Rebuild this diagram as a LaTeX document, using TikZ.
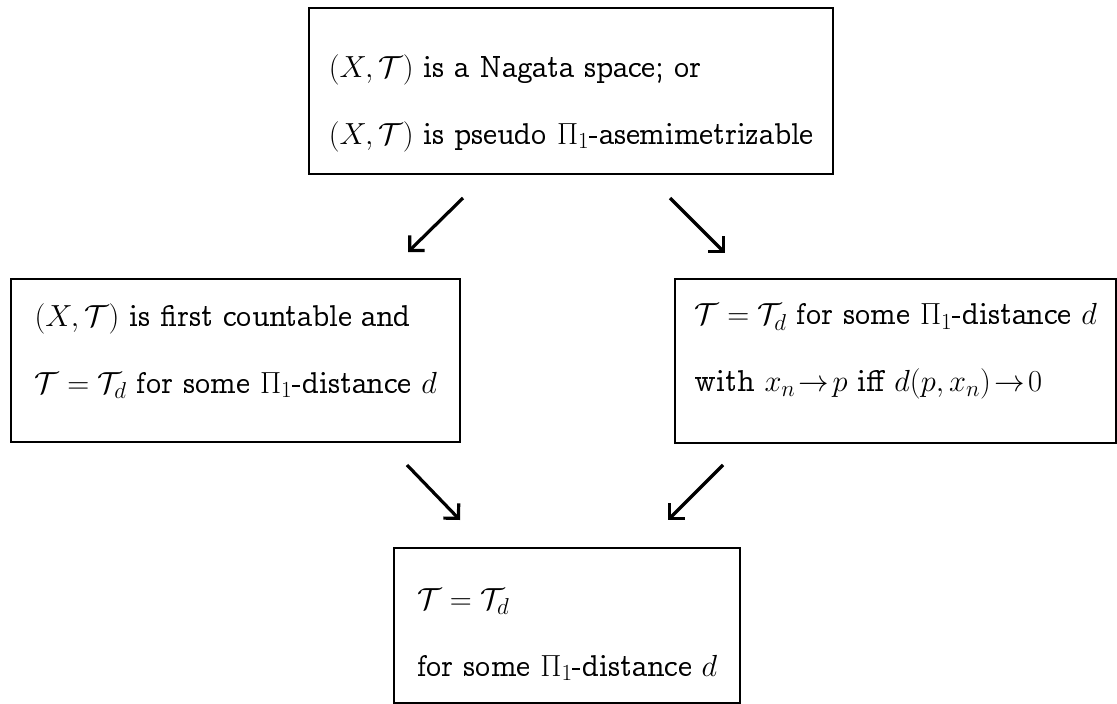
\RequirePackage{fix-cm}
\documentclass[tikz,border=0pt]{standalone}
\usepackage{amsmath,amssymb}
\usepackage[OT1]{fontenc}
\DeclareFontFamily{OT1}{ccr}{\hyphenchar\font45 }
\DeclareFontShape{OT1}{ccr}{m}{n}{<-> ccr10}{}
\renewcommand{\rmdefault}{ccr}
\DeclareMathSizes{30.5}{30.5}{23}{17}
\usetikzlibrary{positioning,arrows.meta}

% invisible struts that move a box's two lines up or down
\newcommand{\padtop}[1]{\rule{0pt}{#1}}
\newcommand{\padbot}[1]{\rule[-#1]{0pt}{#1}}

\begin{document}
\begin{tikzpicture}[
    x=1pt, y=-1pt,
    box/.style={draw, line width=2.4pt, anchor=north west, align=left,
        font=\fontsize{30.5}{67}\selectfont},
    arrow/.style={-{Straight Barb[angle=90:15pt]}, line width=3.2pt}
]
\useasboundingbox (0,0) rectangle (1117,704);
\node[box, minimum width=524pt, minimum height=166pt] (nagata) at (308,7)
    {\padtop{47pt}$(X,\mathcal{T})$ is a Nagata space; or\\
     $(X,\mathcal{T})$ is pseudo $\Pi_1$-asemimetrizable};
\node[box, minimum width=449pt, minimum height=163pt] (countable) at (10,278)
    {$(X,\mathcal{T})$ is first countable and\\
     $\mathcal{T}=\mathcal{T}_d$ for some $\Pi_1$-distance $d$\padbot{25pt}};
\node[box, minimum width=441pt, minimum height=164pt] (convergent) at (674,278)
    {$\mathcal{T}=\mathcal{T}_d$ for some $\Pi_1$-distance $d$\\
     with $x_n\!\to\! p$ iff $d(p,x_n)\!\to\! 0$\padbot{27pt}};
\node[box, minimum width=346pt, minimum height=155pt] (distance) at (393,547)
    {\padtop{39pt}$\mathcal{T}=\mathcal{T}_d$\\
     for some $\Pi_1$-distance $d$};
% arrow ends sit in the gaps between the boxes
\coordinate (tl-from) at (463,198);
\coordinate (tl-to) at (408,252);
\coordinate (tr-from) at (670,198);
\coordinate (tr-to) at (725,253);
\coordinate (bl-from) at (407,465);
\coordinate (bl-to) at (460,520);
\coordinate (br-from) at (723,465);
\coordinate (br-to) at (668,520);
\draw[arrow] (tl-from) -- (tl-to);
\draw[arrow] (tr-from) -- (tr-to);
\draw[arrow] (bl-from) -- (bl-to);
\draw[arrow] (br-from) -- (br-to);
\end{tikzpicture}
\end{document}
